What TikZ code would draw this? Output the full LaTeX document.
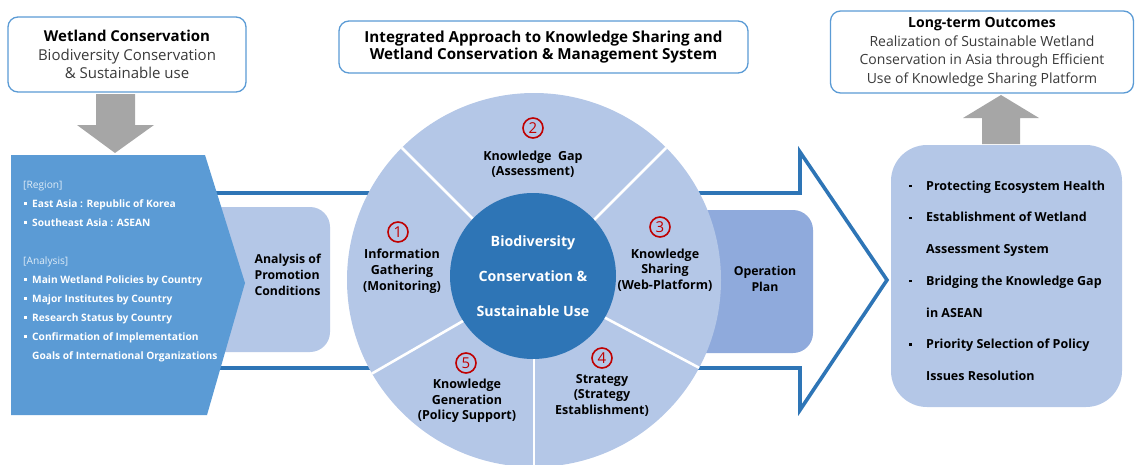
\documentclass[tikz,border=0pt]{standalone}
\usepackage{fontspec}
\setmainfont{Open Sans}
\usetikzlibrary{positioning,calc}

\definecolor{edgeblue}{HTML}{5B9BD5}
\definecolor{deepblue}{HTML}{2E75B6}
\definecolor{paleblue}{HTML}{B4C7E7}
\definecolor{midblue}{HTML}{8FAADC}
\definecolor{arrowgray}{HTML}{A6A6A6}
\definecolor{numred}{HTML}{C00000}
\definecolor{softtext}{HTML}{3A3A3A}
\definecolor{tagwhite}{HTML}{DDEBF7}

\newcommand{\sqdot}[1]{\raisebox{#1}{\rule{2.4pt}{2.4pt}}}

\tikzset{
  headbox/.style={draw=edgeblue, line width=1.3pt, rounded corners=10pt, fill=white,
    align=center, inner sep=0pt},
  softbox/.style={fill=paleblue, rounded corners=20pt, inner sep=0pt},
  segtext/.style={align=center, font=\fontsize{12.5}{15.7}\selectfont\bfseries},
  numring/.style={circle, draw=numred, line width=1.6pt, text=numred, inner sep=0pt,
    minimum size=20pt, font=\fontsize{15}{15}\selectfont},
}

\begin{document}
\begin{tikzpicture}[x=1pt,y=-1pt]
  \useasboundingbox (0,0) rectangle (1136,464);

  % headings
  \node[headbox, minimum width=238, minimum height=75, font=\fontsize{15}{18.5}\selectfont]
    (wetland) at (127,54.5) {\textbf{Wetland Conservation}\\
    \color{softtext}Biodiversity Conservation\\ \color{softtext}\& Sustainable use};
  \node[headbox, minimum width=409, minimum height=52, font=\fontsize{15.2}{16.7}\selectfont\bfseries]
    (approach) at (543.5,47) {Integrated Approach to Knowledge Sharing and\\
    Wetland Conservation \& Management System};
  \node[headbox, minimum width=303, minimum height=82, font=\fontsize{14}{18.7}\selectfont]
    (outcome) at (982,52) {\textbf{Long-term Outcomes}\\
    \color{softtext}Realization of Sustainable Wetland\\
    \color{softtext}Conservation in Asia through Efficient\\
    \color{softtext}Use of Knowledge Sharing Platform};

  % gray block arrows
  \draw[fill=arrowgray, draw=none] (96,94) -- (135,94) -- (135,125) -- (154,125)
    -- (115,153) -- (77,125) -- (96,125) -- cycle;
  \draw[fill=arrowgray, draw=none] (982,144) -- (1020,144) -- (1020,118) -- (1039,118)
    -- (1001,95) -- (963,118) -- (982,118) -- cycle;

  % big outline arrow
  \draw[deepblue, line width=3.6pt, fill=white] (150,193) -- (800,193) -- (800,152)
    -- (887,280) -- (800,410) -- (800,368) -- (150,368);

  % boxes behind the ring
  \node[softbox, minimum width=150, minimum height=145] (promo) at (255,279.5) {};
  \node[anchor=west, align=left, font=\fontsize{12.3}{16}\selectfont\bfseries]
    (promotext) at (251,275) {Analysis of\\Promotion\\Conditions};
  \node[softbox, fill=midblue, minimum width=130, minimum height=143] (operation) at (748,281.5) {};
  \node[align=center, font=\fontsize{12.3}{15.7}\selectfont\bfseries]
    (operationtext) at (765,279) {Operation\\Plan};

  % ring of five steps
  \node[circle, fill=paleblue, minimum size=374, inner sep=0pt] (ring) at (534,280) {};
  \foreach \a in {45,135,210,270,332}
    \draw[white, line width=2.6pt] (ring.center) -- ($(ring.center)+(-\a:187)$);
  \node[circle, fill=deepblue, minimum size=166, inner sep=0pt, text=white, align=center,
    font=\fontsize{14.2}{35}\selectfont\bfseries] (core) at (533,276)
    {Biodiversity\\Conservation \&\\Sustainable Use};

  \node[numring] (n1) at (398,232) {1};
  \node[segtext] (s1) at (402,271.4) {Information\\Gathering\\(Monitoring)};
  \node[numring] (n2) at (533,128) {2};
  \node[segtext] (s2) at (533,164.2) {Knowledge~~Gap\\(Assessment)};
  \node[numring] (n3) at (660,227) {3};
  \node[segtext] (s3) at (665,270.2) {Knowledge\\Sharing\\(Web-Platform)};
  \node[numring] (n4) at (602,358) {4};
  \node[segtext] (s4) at (602,395.2) {Strategy\\(Strategy\\Establishment)};
  \node[numring] (n5) at (466,363) {5};
  \node[segtext] (s5) at (467,401) {Knowledge\\Generation\\(Policy Support)};

  % left chevron with the inputs
  \draw[fill=edgeblue, draw=none] (11,155) -- (205,155) -- (245,283) -- (207,415)
    -- (11,415) -- cycle;
  \node[anchor=west, inner sep=0pt, text=white, font=\fontsize{10.2}{19}\selectfont\bfseries]
    (inputs) at (23,270) {%
    \begin{tabular}{@{}p{9pt}@{}l@{}}
      \multicolumn{2}{@{}l@{}}{\color{tagwhite}\mdseries[Region]}\\
      \hspace{1pt}\sqdot{2.5pt} & East Asia : Republic of Korea\\
      \hspace{1pt}\sqdot{2.5pt} & Southeast Asia : ASEAN\\
      & \\
      \multicolumn{2}{@{}l@{}}{\color{tagwhite}\mdseries[Analysis]}\\
      \hspace{1pt}\sqdot{2.5pt} & Main Wetland Policies by Country\\
      \hspace{1pt}\sqdot{2.5pt} & Major Institutes by Country\\
      \hspace{1pt}\sqdot{2.5pt} & Research Status by Country\\
      \hspace{1pt}\sqdot{2.5pt} & Confirmation of Implementation\\
      & Goals of International Organizations
    \end{tabular}};

  % right box with the outcomes
  \node[softbox, rounded corners=36pt, minimum width=231, minimum height=262] (results) at (1006.5,276) {};
  \node[anchor=west, inner sep=0pt, font=\fontsize{12.5}{31.7}\selectfont\bfseries]
    (resultstext) at (908,279) {%
    \begin{tabular}{@{}p{18pt}@{}l@{}}
      \hspace{1pt}\sqdot{3pt} & Protecting Ecosystem Health\\
      \hspace{1pt}\sqdot{3pt} & Establishment of Wetland\\
      & Assessment System\\
      \hspace{1pt}\sqdot{3pt} & Bridging the Knowledge Gap\\
      & in ASEAN\\
      \hspace{1pt}\sqdot{3pt} & Priority Selection of Policy\\
      & Issues Resolution
    \end{tabular}};
\end{tikzpicture}
\end{document}
